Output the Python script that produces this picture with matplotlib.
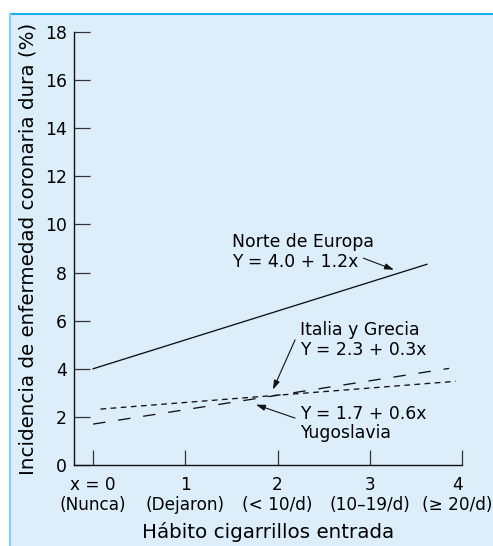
import matplotlib
matplotlib.use("Agg")
import matplotlib.pyplot as plt
import matplotlib.transforms as mtransforms
from matplotlib.patches import Rectangle
from matplotlib.lines import Line2D

plt.rcParams['font.family'] = ['DejaVu Sans']

# Smoking-habit categories on the x axis
x_ticks = [0, 1, 2, 3, 4]
x_tick_labels = ["x = 0\n(Nunca)", "1\n(Dejaron)", "2\n(< 10/d)",
                 "3\n(10–19/d)", "4\n(≥ 20/d)"]
y_ticks = [0, 2, 4, 6, 8, 10, 12, 14, 16, 18]

# Regression lines per region: Y = intercept + slope * x
regions = ["Norte de Europa", "Italia y Grecia", "Yugoslavia"]
intercepts = [4.0, 2.3, 1.7]
slopes = [1.2, 0.3, 0.6]
x_start = [0.0, 0.08, 0.0]
x_end = [3.62, 3.93, 3.86]

W, H = 493, 546
fig = plt.figure(figsize=(W / 100, H / 100), dpi=100)
fig.patch.set_facecolor("white")

# Panel background with its borders
fig.patches.append(Rectangle((10 / W, 0), 1 - 10 / W, 1 - 14 / H,
                             transform=fig.transFigure, facecolor="#DDEEFB",
                             edgecolor="none", zorder=-10))
fig.lines.append(Line2D([10 / W, 1], [1 - 14 / H, 1 - 14 / H],
                        transform=fig.transFigure, color="#19AEEA", lw=1.5,
                        zorder=-5))
fig.lines.append(Line2D([10 / W, 10 / W], [0, 1 - 14 / H],
                        transform=fig.transFigure, color="#86D2F4", lw=1.6,
                        zorder=-5))

ax = fig.add_axes([74 / W, 1 - 465 / H, (462 - 74) / W, (465 - 32) / H])
ax.patch.set_alpha(0)
ax.set_xlim(-0.207, 4.0)
ax.set_ylim(0, 18)
for s in ("top", "right"):
    ax.spines[s].set_visible(False)
for s in ("left", "bottom"):
    ax.spines[s].set_linewidth(1.0)
    ax.spines[s].set_color("#111111")

ax.set_yticks(y_ticks)
ax.set_xticks(x_ticks)
ax.set_xticklabels(x_tick_labels, linespacing=1.15)
ax.tick_params(axis="y", direction="in", length=11.5, width=0.9,
               labelsize=12.4, pad=5, color="#333333")
ax.tick_params(axis="x", direction="in", length=11, width=0.9,
               labelsize=12.2, pad=8, color="#333333")

# keep the last category label inside the panel
last = ax.get_xticklabels()[-1]
last.set_transform(last.get_transform() +
                   mtransforms.ScaledTranslation(-5 / 100, 0,
                                                 fig.dpi_scale_trans))

styles = ["-", (0, (4.3, 3.4)), (0, (9.4, 9.8))]
for b, m, x0, x1, ls in zip(intercepts, slopes, x_start, x_end, styles):
    ax.plot([x0, x1], [b + m * x0, b + m * x1], color="#111111",
            lw=0.95, linestyle=ls)

ax.set_xlabel("Hábito cigarrillos entrada", fontsize=14.3)
ax.set_ylabel("Incidencia de enfermedad coronaria dura (%)", fontsize=14.3)
ax.xaxis.set_label_coords(0.5, -0.131)
ax.yaxis.set_label_coords(-0.093, 0.5)


def eq(b, m):
    return f"Y = {b:.1f} + {m:.1f}x"


arrow = dict(arrowstyle="-|>,head_length=0.55,head_width=0.18",
             color="#111111", lw=0.8, shrinkA=0, shrinkB=0)
fs = 12.4


def label(x, y_top, y_bottom, top, bottom):
    ax.text(x, y_top, top, fontsize=fs, ha="left", va="baseline")
    ax.text(x, y_bottom, bottom, fontsize=fs, ha="left", va="baseline")


# Norte de Europa
label(1.506, 9.06, 8.23, regions[0], eq(intercepts[0], slopes[0]))
xt = 3.262
ax.annotate("", xy=(xt, intercepts[0] + slopes[0] * xt + 0.2),
            xytext=(2.93, 8.6), arrowprops=arrow)

# Italia y Grecia
label(2.243, 5.40, 4.57, regions[1], eq(intercepts[1], slopes[1]))
xt = 1.95
ax.annotate("", xy=(xt, intercepts[1] + slopes[1] * xt + 0.25),
            xytext=(2.19, 5.2), arrowprops=arrow)

# Yugoslavia
label(2.243, 1.91, 1.12, eq(intercepts[2], slopes[2]), regions[2])
xt = 1.766
ax.annotate("", xy=(xt, intercepts[2] + slopes[2] * xt - 0.25),
            xytext=(2.19, 1.95), arrowprops=arrow)

fig.savefig("out.png", dpi=100, facecolor=fig.get_facecolor())
